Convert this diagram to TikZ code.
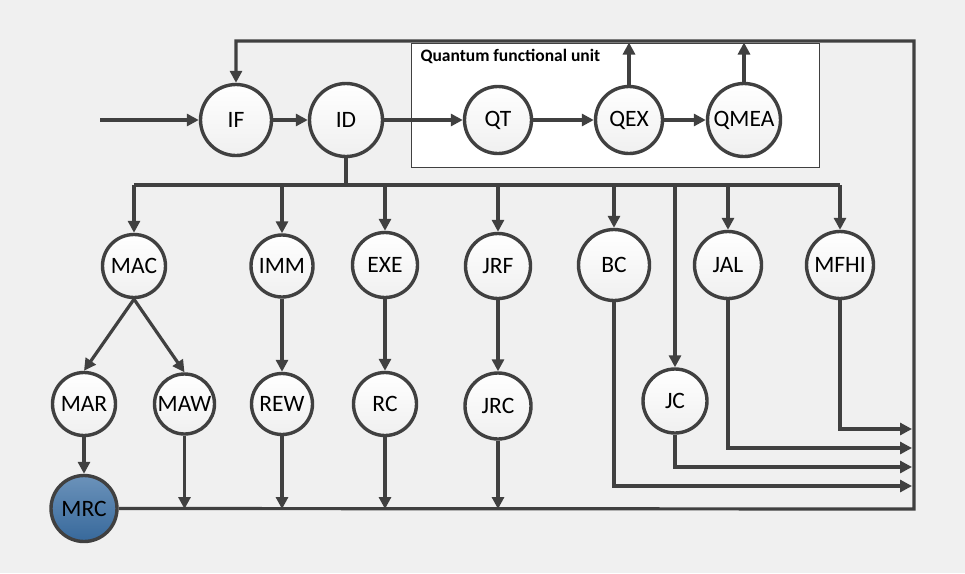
\documentclass[tikz,border=0pt]{standalone}
\usepackage{fontspec}
\setmainfont{Carlito}
\usetikzlibrary{arrows.meta,shadows}
\definecolor{linegray}{HTML}{404040}
\definecolor{bggray}{HTML}{F0F0F0}
\definecolor{mrcblue}{HTML}{3A6EA3}

\begin{document}
\begin{tikzpicture}[x=1pt,y=-1pt,
	unit/.style={circle,draw=linegray,line width=3.4pt,inner sep=0pt,minimum size=#1,
		top color=white,bottom color=gray!12,font=\fontsize{23.5}{23.5}\selectfont,
		drop shadow={opacity=0.12,shadow xshift=1.2pt,shadow yshift=-1.2pt}},
	unit/.default=63,
	wire/.style={draw=linegray,line width=3.2pt},
	flow/.style={wire,-{Triangle[length=12pt,width=12pt]}}]
	
	\fill[bggray] (0,0) rectangle (965,573);
	
	%QUANTUM BOX
	\node[draw=linegray,line width=1pt,fill=white,anchor=north west,inner sep=0pt,
		minimum width=408,minimum height=124] (qfu) at (411,42.5) {};
	\node[anchor=base west,font=\bfseries\fontsize{17.5}{17.5}\selectfont] (qfutitle) at (417,61) {Quantum functional unit};
	
	%TOP ROW
	\node[unit=71] (IF) at (236,120) {IF};
	\node[unit=73] (ID) at (346,120) {ID};
	\node[unit=67] (QT) at (498,120) {QT};
	\node[unit=67] (QEX) at (629,120) {QEX};
	\node[unit=73] (QMEA) at (744,120) {QMEA};
	
	%MIDDLE ROW
	\node[unit=63] (MAC) at (134,266) {MAC};
	\node[unit=62] (IMM) at (282,266) {IMM};
	\node[unit=65] (EXE) at (385,265) {EXE};
	\node[unit=65] (JRF) at (498,266) {JRF};
	\node[unit=71] (BC) at (614,265) {BC};
	\node[unit=67] (JAL) at (728,265) {JAL};
	\node[unit=67] (MFHI) at (840,265) {MFHI};
	
	%LOWER ROW
	\node[unit=63] (MAR) at (84,404) {MAR};
	\node[unit=60] (MAW) at (184.5,404) {MAW};
	\node[unit=61] (REW) at (282,404) {REW};
	\node[unit=63] (RC) at (385,404) {RC};
	\node[unit=66] (JRC) at (498,406) {JRC};
	\node[unit=64] (JC) at (675,401) {JC};
	\node[unit=66,top color=mrcblue!75!white,bottom color=mrcblue!95!black] (MRC) at (84,508.5) {MRC};
	
	%WIRES
	\coordinate (in) at (100,120);
	\coordinate (busL) at (134,185);
	\coordinate (busR) at (840,185);
	\coordinate (fbR) at (914,509);
	\coordinate (fbT) at (914,41);
	
	\draw[flow] (in) -- (IF);
	\draw[flow] (IF) -- (ID);
	\draw[flow] (ID) -- (QT);
	\draw[flow] (QT) -- (QEX);
	\draw[flow] (QEX) -- (QMEA);
	\draw[flow] (QEX.north) -- (QEX.north |- qfu.north);
	\draw[flow] (QMEA.north) -- (QMEA.north |- qfu.north);
	
	\draw[flow] (MRC.east) -- (fbR) -- (fbT) -- (IF.north |- fbT) -- (IF.north);
	
	\draw[wire] (ID.south) -- (ID.south |- busL);
	\draw[wire] (busL) -- (busR);
	\foreach \n in {MAC,IMM,EXE,JRF,BC,JAL,MFHI,JC}
		\draw[flow] (\n.north |- busL) -- (\n.north);
	
	\draw[flow] (MAC.south) -- (MAR.north);
	\draw[flow] (MAC.south) -- (MAW.north);
	\foreach \a/\b in {MAR/MRC,IMM/REW,EXE/RC,JRF/JRC}
		\draw[flow] (\a) -- (\b);
	\foreach \n in {MAW,REW,RC,JRC}
		\draw[flow] (\n.south) -- (\n.south |- fbR);
	
	%INTO THE RIGHT RAIL
	\foreach \n/\y in {MFHI/429,JAL/448,JC/467,BC/486}{
		\coordinate (r\n) at (912,\y);
		\draw[flow] (\n.south) |- (r\n);
	}
\end{tikzpicture}
\end{document}
